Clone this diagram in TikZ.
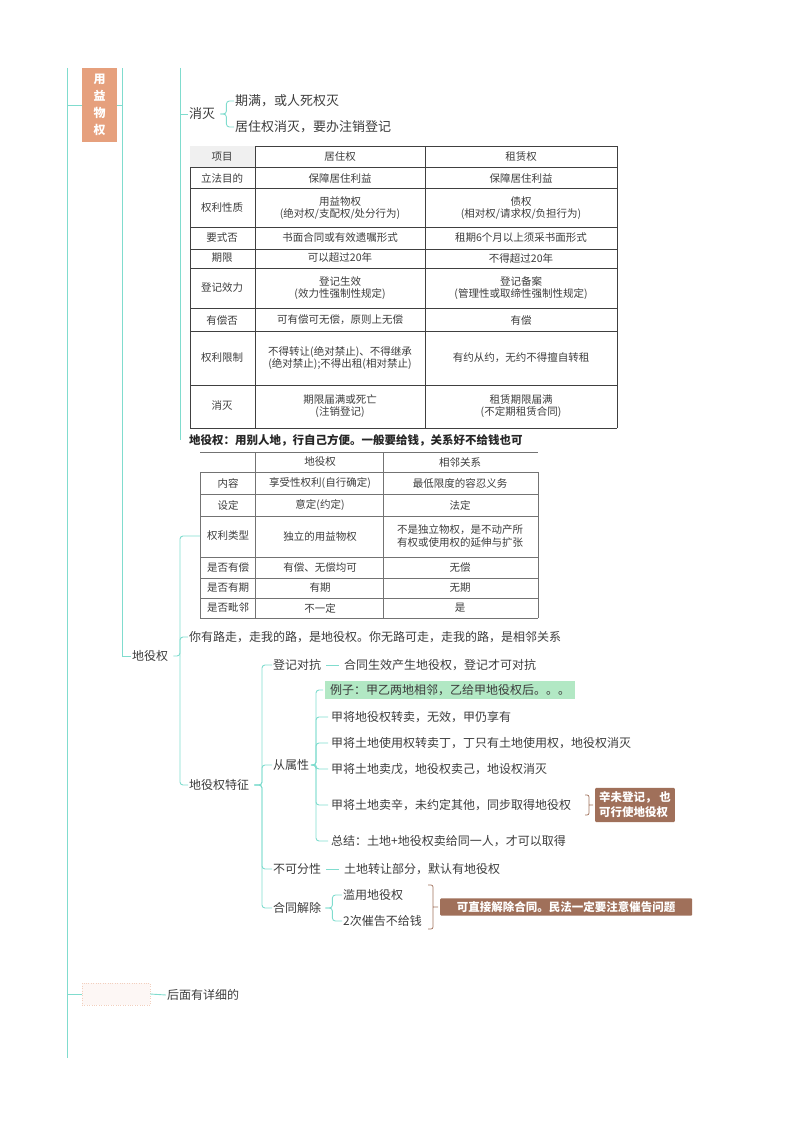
\documentclass[tikz,border=0pt]{standalone}
\usepackage{fontspec}
\setmainfont{Noto Sans CJK SC}
\usetikzlibrary{calc,positioning}
\definecolor{tealline}{RGB}{128,220,206}
\definecolor{orangebox}{RGB}{230,160,125}
\definecolor{brownbox}{RGB}{160,112,90}
\definecolor{greenbox}{RGB}{178,232,196}
\definecolor{txtgray}{RGB}{60,60,60}
\tikzset{
  line/.style = {draw=tealline, line width=0.9pt},
  elbow/.style = {line, rounded corners=3pt},
  txt/.style = {anchor=west, inner sep=1pt, font=\fontsize{12}{14}\selectfont, text=txtgray},
  cell/.style = {inner sep=0pt, align=center, font=\fontsize{10.5}{12.5}\selectfont, text=txtgray},
  grid/.style = {draw=black!75, line width=0.5pt},
  notebox/.style = {fill=brownbox, text=white, font=\bfseries\fontsize{11.5}{15}\selectfont, inner sep=4pt, align=left, rounded corners=1pt}
}
\begin{document}
\begin{tikzpicture}[x=1pt,y=-1pt]
  \useasboundingbox (0,0) rectangle (800,1132);
  % main trunks
  \draw[line] (67,68) -- (67,1058);
  \draw[line] (122,68) -- (122,648);
  \draw[line] (180,68) -- (180,440);
  \node[fill=orangebox, text=white, font=\bfseries\fontsize{12}{17}\selectfont,
    minimum width=35pt, minimum height=74pt, align=center] (yyq) at (99.5,105) {用\\益\\物\\权};
  \draw[line] (67,105) -- (yyq.west);
  \draw[line] (yyq.east) -- (122,105);
  % 消灭
  \node[txt, font=\fontsize{13}{15}\selectfont] (xm) at (188,114) {消灭};
  \draw[line] (180,114) -- (xm.west);
  \node[txt, font=\fontsize{13}{15}\selectfont] (xm1) at (234,101) {期满，或人死权灭};
  \node[txt, font=\fontsize{13}{15}\selectfont] (xm2) at (234,127) {居住权消灭，要办注销登记};
  \foreach \c in {xm1,xm2} \draw[elbow] ($(xm.east)+(4,0)$) -- ++(6,0) |- (\c.west);
  % table 1
  \foreach \y in {146,167,188,227,249,268,308,331,385,428} \draw[grid] (190,\y) -- (617,\y);
  \foreach \x in {190,255,425,617} \draw[grid] (\x,146) -- (\x,428);
  \fill[black!6] (190.3,146.3) rectangle (254.7,166.7);
  \node[cell] (ta0) at (222,157) {项目};
  \node[cell] (tb0) at (340,157) {居住权};
  \node[cell] (tc0) at (521,157) {租赁权};
  \node[cell] (ta1) at (222,178) {立法目的};
  \node[cell] (tb1) at (340,178) {保障居住利益};
  \node[cell] (tc1) at (521,178) {保障居住利益};
  \node[cell] (ta2) at (222,208) {权利性质};
  \node[cell] (tb2) at (340,208) {用益物权\\(绝对权/支配权/处分行为)};
  \node[cell] (tc2) at (521,208) {债权\\(相对权/请求权/负担行为)};
  \node[cell] (ta3) at (222,238) {要式否};
  \node[cell] (tb3) at (340,238) {书面合同或有效遗嘱形式};
  \node[cell] (tc3) at (521,238) {租期6个月以上须采书面形式};
  \node[cell] (ta4) at (222,258) {期限};
  \node[cell] (tb4) at (340,258) {可以超过20年};
  \node[cell] (tc4) at (521,258) {不得超过20年};
  \node[cell] (ta5) at (222,288) {登记效力};
  \node[cell] (tb5) at (340,288) {登记生效\\(效力性强制性规定)};
  \node[cell] (tc5) at (521,288) {登记备案\\(管理性或取缔性强制性规定)};
  \node[cell] (ta6) at (222,320) {有偿否};
  \node[cell] (tb6) at (340,320) {可有偿可无偿，原则上无偿};
  \node[cell] (tc6) at (521,320) {有偿};
  \node[cell] (ta7) at (222,358) {权利限制};
  \node[cell] (tb7) at (340,358) {不得转让(绝对禁止)、不得继承\\(绝对禁止);不得出租(相对禁止)};
  \node[cell] (tc7) at (521,358) {有约从约，无约不得擅自转租};
  \node[cell] (ta8) at (222,406) {消灭};
  \node[cell] (tb8) at (340,406) {期限届满或死亡\\(注销登记)};
  \node[cell] (tc8) at (521,406) {租赁期限届满\\(不定期租赁合同)};
  % 地役权
  \node[txt, font=\bfseries\fontsize{11.5}{14}\selectfont, text=black!85] (dyqt) at (188,440) {地役权：用别人地，行自己方便。一般要给钱，关系好不给钱也可};
  \node[txt] (dyq) at (131,656) {地役权};
  \draw[line] (122,648) |- (dyq.west);
  % table 2
  \foreach \y in {452,472,494,516,557,578,598,618} \draw[grid, draw=black!55] (200,\y) -- (538,\y);
  \foreach \x in {200,255,383,538} \draw[grid, draw=black!55] (\x,472) -- (\x,618);
  \draw[grid, draw=black!55] (255,452) -- (255,472) (383,452) -- (383,472);
  \node[cell] (sa0) at (320,462) {地役权};
  \node[cell] (sb0) at (460,462) {相邻关系};
  \node[cell] (sl1) at (228,483) {内容};
  \node[cell] (sa1) at (320,483) {享受性权利(自行确定)};
  \node[cell] (sb1) at (460,483) {最低限度的容忍义务};
  \node[cell] (sl2) at (228,505) {设定};
  \node[cell] (sa2) at (320,505) {意定(约定)};
  \node[cell] (sb2) at (460,505) {法定};
  \node[cell] (sl3) at (228,536) {权利类型};
  \node[cell] (sa3) at (320,536) {独立的用益物权};
  \node[cell] (sb3) at (460,536) {不是独立物权，是不动产所\\有权或使用权的延伸与扩张};
  \node[cell] (sl4) at (228,567) {是否有偿};
  \node[cell] (sa4) at (320,567) {有偿、无偿均可};
  \node[cell] (sb4) at (460,567) {无偿};
  \node[cell] (sl5) at (228,588) {是否有期};
  \node[cell] (sa5) at (320,588) {有期};
  \node[cell] (sb5) at (460,588) {无期};
  \node[cell] (sl6) at (228,608) {是否毗邻};
  \node[cell] (sa6) at (320,608) {不一定};
  \node[cell] (sb6) at (460,608) {是};
  \node[txt] (lu) at (188,637) {你有路走，走我的路，是地役权。你无路可走，走我的路，是相邻关系};
  \node[txt] (tz) at (188,785) {地役权特征};
  \coordinate (tab2) at (200,536);
  \draw[elbow] ($(dyq.east)+(4,0)$) -- (180,656) |- (tab2);
  \draw[elbow] (180,656) |- (lu.west);
  \draw[elbow] (180,656) |- (tz.west);
  % 特征
  \node[txt] (djdk) at (272,665) {登记对抗};
  \node[txt] (csx) at (272,765) {从属性};
  \node[txt] (bkf) at (272,869) {不可分性};
  \node[txt] (htjc) at (272,908) {合同解除};
  \foreach \c in {djdk,csx,bkf,htjc} \draw[elbow] ($(tz.east)+(4,0)$) -- (262,785) |- (\c.west);
  \node[txt] (djdk1) at (343,665) {合同生效产生地役权，登记才可对抗};
  \draw[line] ($(djdk.east)+(4,0)$) -- ($(djdk1.west)+(-4,0)$);
  \node[txt] (bkf1) at (343,869) {土地转让部分，默认有地役权};
  \draw[line] ($(bkf.east)+(4,0)$) -- ($(bkf1.west)+(-4,0)$);
  \node[txt, fill=greenbox, minimum width=212pt, minimum height=18pt, inner xsep=5pt] (cs0) at (325,690) {例子：甲乙两地相邻，乙给甲地役权后。。。};
  \node[txt] (cs1) at (330,717) {甲将地役权转卖，无效，甲仍享有};
  \node[txt] (cs2) at (330,743) {甲将土地使用权转卖丁，丁只有土地使用权，地役权消灭};
  \node[txt] (cs3) at (330,769) {甲将土地卖戊，地役权卖己，地设权消灭};
  \node[txt] (cs4) at (330,805) {甲将土地卖辛，未约定其他，同步取得地役权};
  \node[txt] (cs5) at (330,841) {总结：土地+地役权卖给同一人，才可以取得};
  \foreach \c in {cs0,cs1,cs2,cs3,cs4,cs5} \draw[elbow] ($(csx.east)+(3,0)$) -- (316,765) |- ($(\c.west)+(-2,0)$);
  \node[notebox, anchor=west] (note1) at (595,805) {辛未登记，\ 也\\可行使地役权};
  \draw[draw=brownbox, line width=0.7pt, rounded corners=2pt] (585,795) -- (589,795) -- (589,815) -- (585,815) (589,805) -- (593,805);
  \node[txt] (ht1) at (342,895) {滥用地役权};
  \node[txt] (ht2) at (342,921) {2次催告不给钱};
  \foreach \c in {ht1,ht2} \draw[elbow] ($(htjc.east)+(3,0)$) -- ++(7,0) |- (\c.west);
  \node[notebox, anchor=west, inner sep=3pt, minimum width=252pt] (note2) at (440,907) {可直接解除合同。民法一定要注意催告问题};
  \draw[draw=brownbox, line width=0.7pt, rounded corners=2pt] (428,885) -- (433,885) -- (433,929) -- (428,929) (433,907) -- (438,907);
  % 后面
  \node[draw=orangebox!50, dotted, fill=orangebox!8, minimum width=68pt, minimum height=22pt] (hm) at (116,994) {};
  \draw[line] (67,994) -- (hm.west);
  \node[txt] (hmt) at (166,995) {后面有详细的};
  \draw[line] (hm.east) -- (hmt.west);
\end{tikzpicture}
\end{document}
